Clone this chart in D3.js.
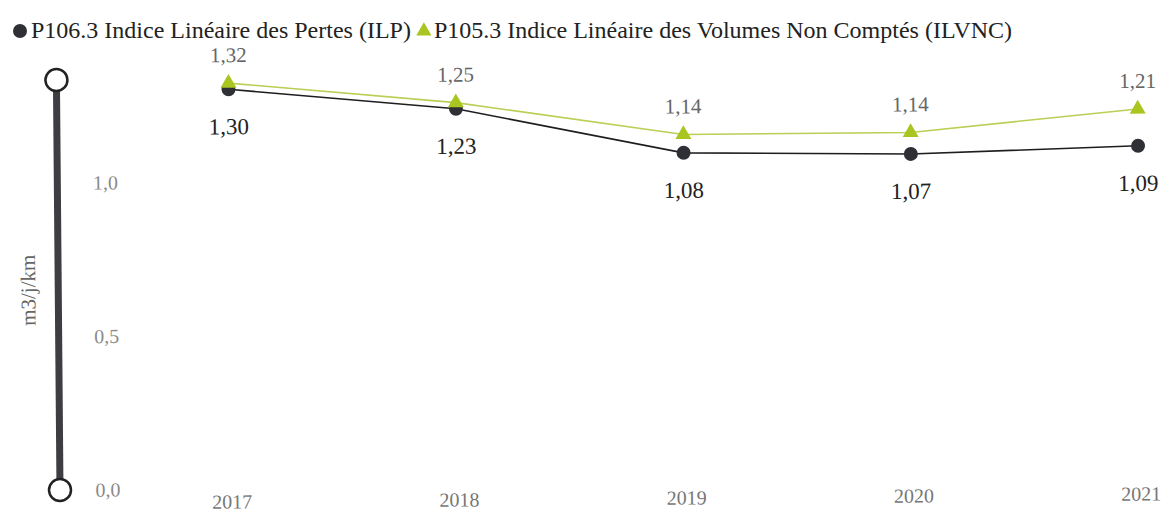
<!DOCTYPE html>
<html>
<head>
<meta charset="utf-8">
<script src="https://cdn.jsdelivr.net/npm/d3@7"></script>
<style>
  html, body { margin: 0; padding: 0; background: #fff; }
  svg { display: block; }
  text { font-family: "Liberation Serif", "Times New Roman", serif; }
</style>
</head>
<body>
<svg id="chart" width="1168" height="515"></svg>
<script>
// Years shown on the horizontal axis
const years = ["2017", "2018", "2019", "2020", "2021"];
// P106.3 Indice Linéaire des Pertes (m3/j/km)
const ilp = [1.30, 1.23, 1.08, 1.07, 1.09];
// P105.3 Indice Linéaire des Volumes Non Comptés (m3/j/km)
const ilvnc = [1.32, 1.25, 1.14, 1.14, 1.21];
// Vertical axis ticks
const yTicks = [0, 0.5, 1.0];
const seriesNames = [
  "P106.3 Indice Linéaire des Pertes (ILP)",
  "P105.3 Indice Linéaire des Volumes Non Comptés (ILVNC)"
];

const fmt = d3.formatLocale({ decimal: ",", thousands: " ", grouping: [3], currency: ["", "€"] });
const fmt2 = fmt.format(".2f");
const fmt1 = fmt.format(".1f");

const svg = d3.select("#chart");
const darkCol = "#2f2f36";
const greenCol = "#a9c51f";
const greenLine = "#b9cf55";

// Legend
const leg = svg.append("g");
leg.append("circle").attr("cx", 20).attr("cy", 31).attr("r", 7).attr("fill", darkCol);
const t1 = leg.append("text").attr("x", 31).attr("y", 38)
  .attr("font-size", 24).attr("fill", "#222").text(seriesNames[0]);
const w1 = t1.node().getComputedTextLength();
const triX = 31 + w1 + 13;
leg.append("path")
  .attr("d", d3.symbol(d3.symbolTriangle, 100)())
  .attr("transform", `translate(${triX},31)`)
  .attr("fill", greenCol);
leg.append("text").attr("x", triX + 10).attr("y", 38)
  .attr("font-size", 24).attr("fill", "#222").text(seriesNames[1]);

// Plot area, slightly tilted as on the printed page
const axisX = 60;
const plot = svg.append("g").attr("transform", `rotate(-0.5, ${axisX}, 490)`);

const x = d3.scalePoint().domain(years).range([232, 1141]);
const y = d3.scaleLinear().domain([0, 1.335]).range([490, 80]);

// Slider-style vertical axis
plot.append("line")
  .attr("x1", axisX).attr("x2", axisX)
  .attr("y1", y(y.domain()[1])).attr("y2", y(0))
  .attr("stroke", "#3e3e42").attr("stroke-width", 7);
[y.domain()[1], 0].forEach(v => {
  plot.append("circle").attr("cx", axisX).attr("cy", y(v)).attr("r", 11)
    .attr("fill", "#fff").attr("stroke", "#222").attr("stroke-width", 2.5);
});

// Tick labels
plot.append("g").selectAll("text").data(yTicks).join("text")
  .attr("x", 108).attr("y", d => y(d) + 7)
  .attr("text-anchor", "middle").attr("font-size", 20).attr("fill", "#8a8a8a")
  .text(d => fmt1(d));

// Axis title
plot.append("text")
  .attr("transform", "translate(37,290) rotate(-90)")
  .attr("text-anchor", "middle").attr("font-size", 21).attr("fill", "#666")
  .text("m3/j/km");

// Year labels
plot.append("g").selectAll("text").data(years).join("text")
  .attr("x", d => x(d)).attr("y", 510)
  .attr("text-anchor", "middle").attr("font-size", 20).attr("fill", "#777")
  .text(d => d);

const line = d3.line().x((d, i) => x(years[i])).y(d => y(d));

// ILVNC series
plot.append("path").datum(ilvnc).attr("d", line)
  .attr("fill", "none").attr("stroke", greenLine).attr("stroke-width", 1.6);

// ILP series
plot.append("path").datum(ilp).attr("d", line)
  .attr("fill", "none").attr("stroke", "#1e1e22").attr("stroke-width", 1.6);

plot.append("g").selectAll("circle").data(ilp).join("circle")
  .attr("cx", (d, i) => x(years[i])).attr("cy", d => y(d)).attr("r", 7)
  .attr("fill", darkCol);

plot.append("g").selectAll("path").data(ilvnc).join("path")
  .attr("d", d3.symbol(d3.symbolTriangle, 110)())
  .attr("transform", (d, i) => `translate(${x(years[i])},${y(d)})`)
  .attr("fill", greenCol);

// Value labels
plot.append("g").selectAll("text").data(ilvnc).join("text")
  .attr("x", (d, i) => x(years[i])).attr("y", d => y(d) - 21)
  .attr("text-anchor", "middle").attr("font-size", 21).attr("fill", "#666")
  .text(d => fmt2(d));

plot.append("g").selectAll("text").data(ilp).join("text")
  .attr("x", (d, i) => x(years[i])).attr("y", d => y(d) + 45)
  .attr("text-anchor", "middle").attr("font-size", 23).attr("fill", "#222")
  .text(d => fmt2(d));
</script>
</body>
</html>
